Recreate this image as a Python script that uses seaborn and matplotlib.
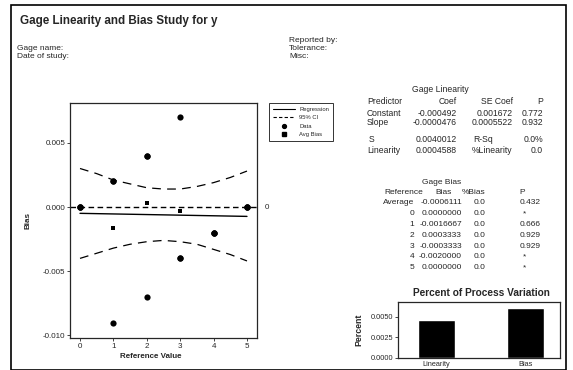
import matplotlib
matplotlib.use("Agg")
import matplotlib.pyplot as plt
import seaborn as sns
from matplotlib.patches import Rectangle
from matplotlib.lines import Line2D

# Data
data_ref = [0, 0, 0, 1, 1, 1, 2, 2, 2, 3, 3, 3, 4, 4, 4, 5, 5, 5]
data_bias = [0, 0, 0, 0.002, 0.002, -0.009, 0.004, 0.004, -0.007,
             0.007, -0.004, -0.004, -0.002, -0.002, -0.002, 0, 0, 0]
ref_values = [0, 1, 2, 3, 4, 5]
avg_bias = [0.0, -0.0016667, 0.0003333, -0.0003333, -0.0020, 0.0]
reg_x = [0, 5]
reg_y = [-0.000492, -0.000730]
ci_x = [0, 0.5, 1, 1.5, 2, 2.5, 3, 3.5, 4, 4.5, 5]
ci_upper = [0.0030, 0.0026, 0.0021, 0.0018, 0.0015, 0.0014, 0.0014, 0.0016, 0.0019, 0.0023, 0.0028]
ci_lower = [-0.0040, -0.0036, -0.0032, -0.0029, -0.0027, -0.0026, -0.0027, -0.0029, -0.0033, -0.0037, -0.0042]
pv_labels = ["Linearity", "Bias"]
pv_values = [0.004588, 0.006111]

W, H = 573, 370
sns.set_theme(style="ticks")
plt.rcParams["font.family"] = ["Liberation Sans", "DejaVu Sans"]
plt.rcParams["axes.linewidth"] = 0.9
plt.rcParams["xtick.major.size"] = 2
plt.rcParams["ytick.major.size"] = 2
plt.rcParams["xtick.major.width"] = 0.6
plt.rcParams["ytick.major.width"] = 0.6

fig = plt.figure(figsize=(W / 100, H / 100), dpi=100)


def box(x0, y0, x1, y1):
    return [x0 / W, 1 - y1 / H, (x1 - x0) / W, (y1 - y0) / H]


def txt(x, y, s, size=6.2, ha="left", weight="normal"):
    fig.text(x / W, 1 - y / H, s, fontsize=size, ha=ha, va="center", weight=weight)


# outer frame
fig.patches.append(Rectangle((11 / W, 0), 555 / W, 1 - 5 / H, transform=fig.transFigure,
                             fill=False, lw=1.2, ec="black"))

# header
txt(20, 21, "Gage Linearity and Bias Study for y", size=8.4, weight="bold")
txt(17, 49, "Gage name:", size=6)
txt(17, 57, "Date of study:", size=6)
txt(289, 41, "Reported by:", size=6)
txt(289, 49, "Tolerance:", size=6)
txt(289, 57, "Misc:", size=6)

# main plot
ax = fig.add_axes(box(70, 103, 257, 338))
ax.axhline(0, color="black", lw=1, ls=(0, (4, 2.5)))
sns.lineplot(x=reg_x, y=reg_y, ax=ax, color="black", lw=1)
sns.lineplot(x=ci_x, y=ci_upper, ax=ax, color="black", lw=0.9, ls=(0, (7, 5)))
sns.lineplot(x=ci_x, y=ci_lower, ax=ax, color="black", lw=0.9, ls=(0, (7, 5)))
sns.scatterplot(x=data_ref, y=data_bias, ax=ax, color="black", s=20, marker="o", linewidth=0)
sns.scatterplot(x=ref_values, y=avg_bias, ax=ax, color="black", s=9, marker="s", linewidth=0)
ax.set_xlim(-0.3, 5.3)
ax.set_ylim(-0.0102, 0.0081)
ax.set_xticks(ref_values)
ax.set_yticks([-0.010, -0.005, 0.000, 0.005])
ax.set_yticklabels(["-0.010", "-0.005", "0.000", "0.005"])
ax.tick_params(labelsize=5.8, pad=1.5)
ax.set_xlabel("Reference Value", fontsize=5.8, weight="bold", labelpad=1)
ax.xaxis.set_label_coords(0.43, -0.065)
ax.set_ylabel("Bias", fontsize=5.8, weight="bold", labelpad=8)
ax.text(1.04, 0, "0", transform=ax.get_yaxis_transform(), fontsize=5.8, va="center")

# legend
handles = [Line2D([], [], color="black", lw=0.8),
           Line2D([], [], color="black", lw=0.8, ls=(0, (3, 2))),
           Line2D([], [], color="black", marker="o", ls="", markersize=2.8),
           Line2D([], [], color="black", marker="s", ls="", markersize=2.2)]
leg = fig.legend(handles, ["Regression", "95% CI", "Data", "Avg Bias"],
                 loc="upper left", bbox_to_anchor=(269 / W, 1 - 103 / H), fontsize=4.2,
                 frameon=True, fancybox=False, edgecolor="black", handlelength=3.8,
                 borderpad=0.7, labelspacing=0.55, handletextpad=0.7, borderaxespad=0)
leg.get_frame().set_linewidth(0.7)

# gage linearity table
txt(440, 90, "Gage Linearity", ha="center")
rows = [("Predictor", "Coef", "SE Coef", "P"),
        ("Constant", "-0.000492", "0.001672", "0.772"),
        ("Slope", "-0.0000476", "0.0005522", "0.932")]
for (a, b, c, d), y in zip(rows, [102, 113, 123]):
    txt(367, y, a)
    txt(457, y, b, ha="right")
    txt(513, y, c, ha="right")
    txt(543, y, d, ha="right")
txt(369, 140, "S")
txt(457, 140, "0.0040012", ha="right")
txt(473, 140, "R-Sq")
txt(543, 140, "0.0%", ha="right")
txt(367, 150, "Linearity")
txt(457, 150, "0.0004588", ha="right")
txt(472, 150, "%Linearity")
txt(543, 150, "0.0", ha="right")

# gage bias table
txt(442, 182, "Gage Bias", ha="center", size=6)
txt(384, 192, "Reference", size=6)
txt(452, 192, "Bias", ha="right", size=6)
txt(485, 192, "%Bias", ha="right", size=6)
txt(525, 192, "P", ha="right", size=6)
bias_rows = [("Average", "-0.0006111", "0.432"), ("0", "0.0000000", "*"),
             ("1", "-0.0016667", "0.666"), ("2", "0.0003333", "0.929"),
             ("3", "-0.0003333", "0.929"), ("4", "-0.0020000", "*"),
             ("5", "0.0000000", "*")]
for i, (r, b, p) in enumerate(bias_rows):
    y = 203 + i * 10.8
    txt(414, y, r, ha="right", size=6)
    txt(462, y, b, ha="right", size=6)
    txt(485, y, "0.0", ha="right", size=6)
    txt(541 if p != "*" else 526, y, p, ha="right", size=6)

# percent of process variation
txt(481, 293, "Percent of Process Variation", size=7.3, weight="bold", ha="center")
bx = fig.add_axes(box(398, 302, 560, 358))
sns.barplot(x=pv_labels, y=pv_values, ax=bx, color="black", width=0.42, saturation=1)
bx.set_xlim(-0.43, 1.39)
bx.set_ylim(0, 0.0068)
bx.set_yticks([0, 0.0025, 0.005])
bx.set_yticklabels(["0.0000", "0.0025", "0.0050"])
bx.tick_params(labelsize=5.3, pad=1.5)
bx.tick_params(axis="x", length=0, pad=2)
bx.set_xlabel("")
bx.set_ylabel("Percent", fontsize=6.3, weight="bold", labelpad=5)

fig.savefig("out.png", dpi=100)
